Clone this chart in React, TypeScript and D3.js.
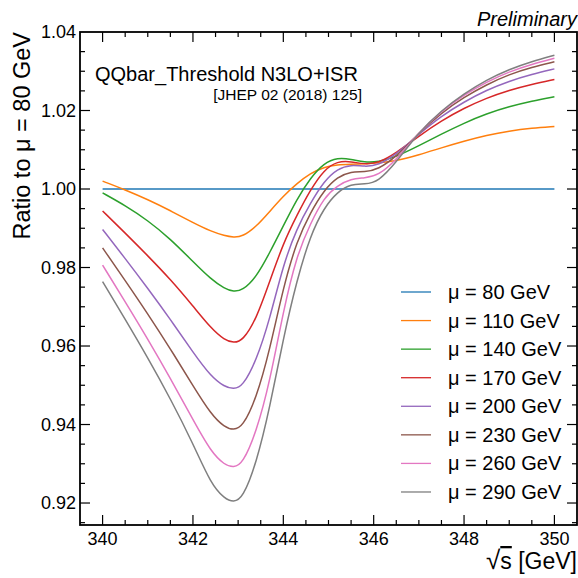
import React, { useRef, useEffect } from 'react';
import * as d3 from 'd3';

// sqrt(s) sample points [GeV]
const SQRT_S = [340, 340.5, 341, 341.5, 342, 342.4, 342.7, 342.9, 343.1, 343.4, 343.7, 344, 344.3, 344.6, 344.9, 345.2, 345.5, 345.8, 346.1, 346.5, 347, 347.5, 348, 348.5, 349, 349.5, 350];

// ratio to mu = 80 GeV
const MU80 = [1, 1, 1, 1, 1, 1, 1, 1, 1, 1, 1, 1, 1, 1, 1, 1, 1, 1, 1, 1, 1, 1, 1, 1, 1, 1, 1];
const MU110 = [1.002, 0.9998, 0.9973, 0.9945, 0.9914, 0.9892, 0.9881, 0.9877, 0.9879, 0.9904, 0.9943, 0.9982, 1.0014, 1.004, 1.0056, 1.0062, 1.0063, 1.0064, 1.0066, 1.0072, 1.0087, 1.0105, 1.0122, 1.0137, 1.0148, 1.0155, 1.0159];
const MU140 = [0.999, 0.9958, 0.992, 0.9873, 0.9815, 0.977, 0.9746, 0.9738, 0.9742, 0.9775, 0.9838, 0.9906, 0.9974, 1.0028, 1.0066, 1.008, 1.0076, 1.0068, 1.0069, 1.0082, 1.011, 1.014, 1.0168, 1.0192, 1.021, 1.0224, 1.0235];
const MU170 = [0.9944, 0.9888, 0.983, 0.977, 0.9702, 0.9645, 0.9615, 0.9608, 0.9613, 0.9668, 0.9765, 0.9862, 0.9933, 0.9998, 1.0049, 1.0071, 1.007, 1.0063, 1.0066, 1.0092, 1.0135, 1.0174, 1.0206, 1.0232, 1.0252, 1.0267, 1.0279];
const MU200 = [0.9897, 0.9823, 0.9747, 0.9668, 0.9584, 0.9522, 0.9496, 0.949, 0.9497, 0.9562, 0.9668, 0.9808, 0.99, 0.9964, 1.002, 1.0052, 1.0062, 1.0057, 1.006, 1.0088, 1.014, 1.0186, 1.0222, 1.0252, 1.0275, 1.0292, 1.0306];
const MU230 = [0.985, 0.9767, 0.9682, 0.9593, 0.9499, 0.9426, 0.9393, 0.9386, 0.9394, 0.9466, 0.959, 0.975, 0.9868, 0.994, 0.9997, 1.0031, 1.0045, 1.0043, 1.005, 1.0082, 1.0143, 1.0194, 1.0234, 1.0266, 1.0292, 1.031, 1.0324];
const MU260 = [0.9806, 0.9713, 0.9618, 0.9518, 0.9412, 0.933, 0.9297, 0.929, 0.93, 0.938, 0.9508, 0.969, 0.9832, 0.9912, 0.9978, 1.0009, 1.0026, 1.0028, 1.0034, 1.0074, 1.0145, 1.0198, 1.024, 1.0273, 1.0299, 1.0318, 1.0333];
const MU290 = [0.9764, 0.9668, 0.957, 0.9466, 0.9352, 0.9248, 0.9211, 0.9202, 0.9212, 0.93, 0.9442, 0.962, 0.9768, 0.9882, 0.9952, 0.9993, 1.0013, 1.0012, 1.0018, 1.0068, 1.0145, 1.02, 1.0243, 1.0278, 1.0305, 1.0325, 1.0341];

const LABELS = ['μ = 80 GeV', 'μ = 110 GeV', 'μ = 140 GeV', 'μ = 170 GeV', 'μ = 200 GeV', 'μ = 230 GeV', 'μ = 260 GeV', 'μ = 290 GeV'];
const COLORS = ['#1f77b4', '#ff7f0e', '#2ca02c', '#d62728', '#9467bd', '#8c564b', '#e377c2', '#7f7f7f'];
const SERIES = [MU80, MU110, MU140, MU170, MU200, MU230, MU260, MU290];

const X_TICKS = [340, 342, 344, 346, 348, 350];
const Y_TICKS = [0.92, 0.94, 0.96, 0.98, 1.0, 1.02, 1.04];

const FONT = "'Liberation Sans', Arial, Helvetica, sans-serif";

const App = () => {
  const svgRef = useRef<SVGSVGElement>(null);
  const width = 578;
  const height = 578;

  useEffect(() => {
    const svg = d3.select(svgRef.current);
    svg.selectAll('*').remove();

    const left = 80, right = 577, top = 32, bottom = 525;

    const x = d3.scaleLinear().domain([339.5, 350.5]).range([left, right]);
    const y = d3.scaleLinear().domain([0.9144, 1.04]).range([bottom, top]);

    svg.append('rect').attr('width', width).attr('height', height).attr('fill', '#fff');

    svg.append('clipPath').attr('id', 'plotclip')
      .append('rect')
      .attr('x', left).attr('y', top)
      .attr('width', right - left).attr('height', bottom - top);

    // curves
    const line = d3.line<number>()
      .x((_, i) => x(SQRT_S[i]))
      .y(d => y(d))
      .curve(d3.curveBasis);

    const curves = svg.append('g').attr('clip-path', 'url(#plotclip)');
    SERIES.forEach((s, i) => {
      curves.append('path')
        .attr('d', line(s))
        .attr('fill', 'none')
        .attr('stroke', COLORS[i])
        .attr('stroke-width', 1.5);
    });

    // ticks, inward on all four sides
    const ticks = svg.append('g').attr('stroke', '#000').attr('stroke-width', 1.2);
    const xMinor = d3.range(340, 350.01, 0.5).filter(v => Math.abs(v / 2 - Math.round(v / 2)) > 1e-6);
    const yMinor = d3.range(0.915, 1.0401, 0.005).filter(v => !Y_TICKS.some(t => Math.abs(t - v) < 1e-6));

    const xTick = (v: number, len: number) => {
      ticks.append('line').attr('x1', x(v)).attr('x2', x(v)).attr('y1', bottom).attr('y2', bottom - len);
      ticks.append('line').attr('x1', x(v)).attr('x2', x(v)).attr('y1', top).attr('y2', top + len);
    };
    const yTick = (v: number, len: number) => {
      ticks.append('line').attr('x1', left).attr('x2', left + len).attr('y1', y(v)).attr('y2', y(v));
      ticks.append('line').attr('x1', right).attr('x2', right - len).attr('y1', y(v)).attr('y2', y(v));
    };
    X_TICKS.forEach(v => xTick(v, 10));
    xMinor.forEach(v => xTick(v, 5));
    Y_TICKS.filter(v => v < 1.039).forEach(v => yTick(v, 10));
    yMinor.filter(v => v < 1.039).forEach(v => yTick(v, 5));

    // frame
    svg.append('rect')
      .attr('x', left).attr('y', top)
      .attr('width', right - left).attr('height', bottom - top)
      .attr('fill', 'none').attr('stroke', '#000').attr('stroke-width', 1.8);

    // tick labels
    X_TICKS.forEach(v => {
      svg.append('text')
        .attr('x', x(v)).attr('y', 545)
        .attr('text-anchor', 'middle')
        .attr('font-family', FONT).attr('font-size', 18)
        .text(String(v));
    });
    Y_TICKS.forEach(v => {
      svg.append('text')
        .attr('x', 76).attr('y', y(v))
        .attr('text-anchor', 'end')
        .attr('dominant-baseline', 'central')
        .attr('font-family', FONT).attr('font-size', 18)
        .text(v.toFixed(2));
    });

    // axis titles
    svg.append('text')
      .attr('transform', `translate(30, ${top}) rotate(-90)`)
      .attr('text-anchor', 'end')
      .attr('font-family', FONT).attr('font-size', 23.5)
      .text('Ratio to μ = 80 GeV');

    const xt = svg.append('text')
      .attr('x', 577).attr('y', 569)
      .attr('text-anchor', 'end')
      .attr('font-family', FONT).attr('font-size', 23);
    xt.append('tspan').attr('font-size', 26).text('√');
    xt.append('tspan').attr('style', 'text-decoration: overline').text('s');
    xt.append('tspan').text(' [GeV]');

    // annotations
    svg.append('text')
      .attr('x', 577).attr('y', 26)
      .attr('text-anchor', 'end')
      .attr('font-family', FONT).attr('font-size', 20)
      .attr('font-style', 'italic')
      .text('Preliminary');

    svg.append('text')
      .attr('x', 95).attr('y', 81)
      .attr('font-family', FONT).attr('font-size', 20)
      .text('QQbar_Threshold N3LO+ISR');

    svg.append('text')
      .attr('x', 362).attr('y', 100)
      .attr('text-anchor', 'end')
      .attr('font-family', FONT).attr('font-size', 15.5)
      .text('[JHEP 02 (2018) 125]');

    // legend
    const legend = svg.append('g');
    LABELS.forEach((lab, i) => {
      const ly = 292 + i * 28.57;
      legend.append('line')
        .attr('x1', 401).attr('x2', 431)
        .attr('y1', ly).attr('y2', ly)
        .attr('stroke', COLORS[i]).attr('stroke-width', 1.3);
      legend.append('text')
        .attr('x', 448).attr('y', ly)
        .attr('dominant-baseline', 'central')
        .attr('font-family', FONT).attr('font-size', 20)
        .text(lab);
    });
  }, []);

  return (
    <svg
      ref={svgRef}
      width={width}
      height={height}
      style={{ position: 'absolute', left: 0, top: 0 }}
    ></svg>
  );
};

export default App;
